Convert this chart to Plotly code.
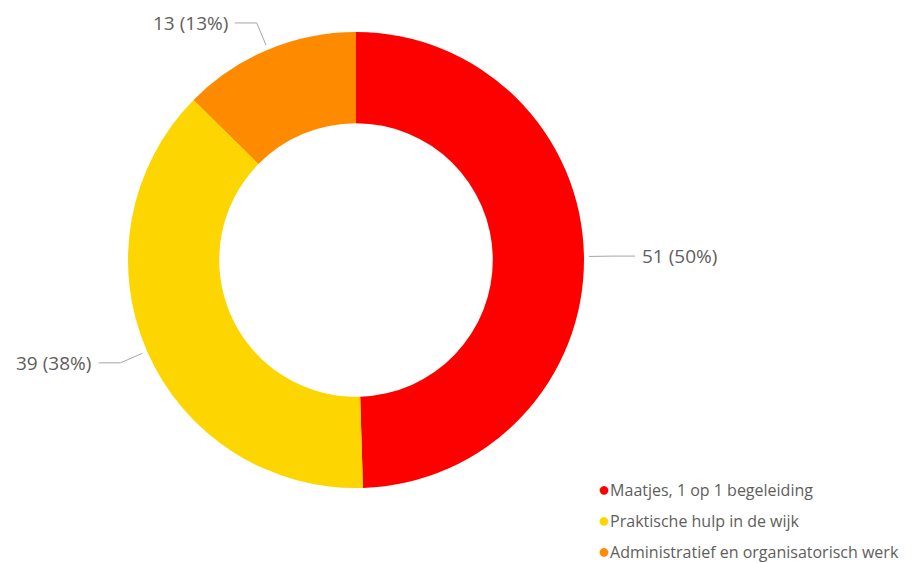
import math
import plotly.graph_objects as go

# data
categories = ["Maatjes, 1 op 1 begeleiding", "Praktische hulp in de wijk",
              "Administratief en organisatorisch werk"]
counts = [51, 39, 13]
colors = ["#FD0000", "#FDD500", "#FE8A00"]

OFF = 8  # page body margin
W, H = 913 - 2 * OFF, 563 - OFF
CX, CY, R = 356, 260, 228  # donut centre and outer radius in page pixels
FONT = "Open Sans, Segoe UI, sans-serif"
TXT = "#605E5C"


def px(x):
    return (x - OFF) / W


def py(y):
    return 1 - (y - OFF) / H


fig = go.Figure(go.Pie(
    labels=categories, values=counts, hole=0.6, sort=False,
    direction="clockwise", rotation=0, textinfo="none",
    marker=dict(colors=colors), showlegend=False,
    domain=dict(x=[px(CX - R), px(CX + R)], y=[py(CY + R), py(CY - R)]),
))

# data labels with leader lines, placed at each slice's mid angle
total = sum(counts)
shapes, annotations = [], []
cum = 0
for v in counts:
    mid = (cum + v / 2) / total * 2 * math.pi
    cum += v
    dx, dy = math.sin(mid), -math.cos(mid)
    x0, y0 = CX + dx * (R + 5), CY + dy * (R + 5)
    x1, y1 = CX + dx * (R + 29), CY + dy * (R + 29)
    side = 1 if dx >= 0 else -1
    x2 = x1 + side * 22
    shapes.append(dict(type="path", xref="paper", yref="paper",
                       path=f"M {px(x0)},{py(y0)} L {px(x1)},{py(y1)} L {px(x2)},{py(y1)}",
                       line=dict(color="#A6A6A6", width=1)))
    annotations.append(dict(x=px(x2 + side * 5), y=py(y1), xref="paper", yref="paper",
                            text=f"{v} ({round(100 * v / total)}%)", showarrow=False,
                            xanchor="left" if side > 0 else "right", yanchor="middle",
                            font=dict(family=FONT, size=19, color=TXT)))

# legend with round markers
LX, LY, LDY = 596, 488, 31
for i, (c, col) in enumerate(zip(categories, colors)):
    annotations.append(dict(x=px(LX), y=py(LY + i * LDY), xref="paper", yref="paper",
                            text=f"<span style='color:{col};font-size:20px'>●</span>{c}",
                            showarrow=False, xanchor="left", yanchor="middle",
                            font=dict(family=FONT, size=16, color=TXT)))

fig.update_layout(width=W, height=H, margin=dict(l=0, r=0, t=0, b=0),
                  paper_bgcolor="white", plot_bgcolor="white",
                  shapes=shapes, annotations=annotations)

fig.write_html("out.html")
